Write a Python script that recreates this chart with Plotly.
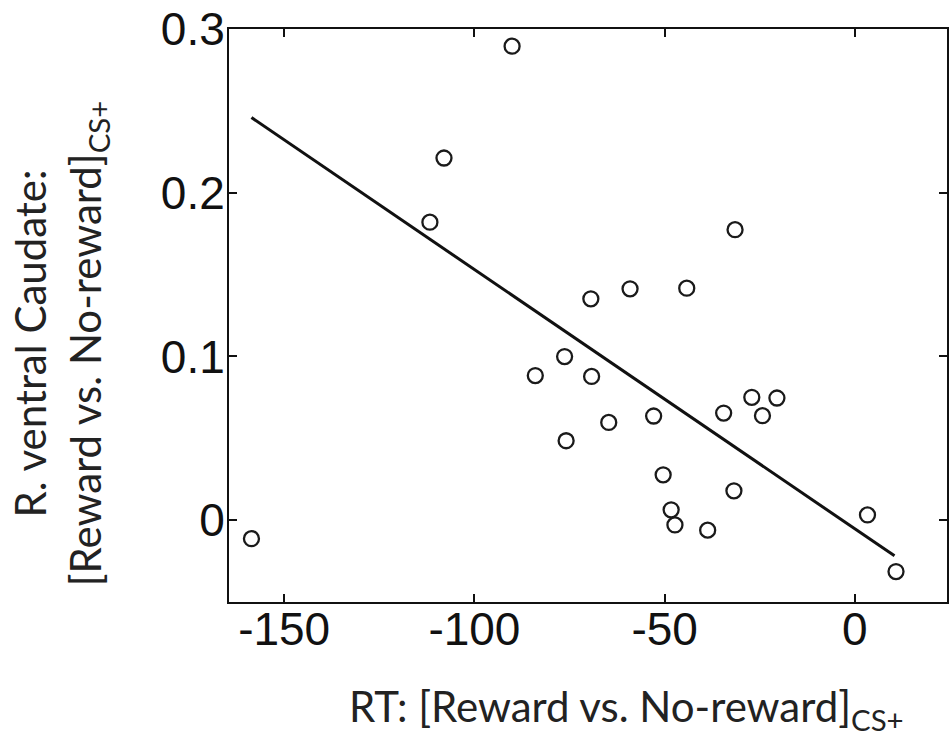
import plotly.graph_objects as go

# Data
rt_diff = [-90.1, -108.0, -111.7, -31.5, -59.1, -44.2, -69.4, -76.3, -84.0, -69.2,
           -27.1, -20.5, -34.5, -24.3, -52.9, -64.7, -75.9, -50.4, -31.8, -48.3,
           -47.3, -38.7, 3.3, 10.8, -158.6]
caudate = [0.2895, 0.2212, 0.1820, 0.1774, 0.1413, 0.1417, 0.1352, 0.0999, 0.0883, 0.0878,
           0.0750, 0.0746, 0.0654, 0.0638, 0.0636, 0.0597, 0.0485, 0.0277, 0.0179, 0.0063,
           -0.0029, -0.0061, 0.0032, -0.0314, -0.0113]
fit_x = [-158.6, 10.4]
fit_y = [0.2459, -0.0218]

x_ticks = [-150, -100, -50, 0]
x_tick_labels = ["-150", "-100", "-50", "0"]
y_ticks = [0, 0.1, 0.2, 0.3]
y_tick_labels = ["0", "0.1", "0.2", "0.3"]

fig = go.Figure()
fig.add_trace(go.Scatter(x=fit_x, y=fit_y, mode="lines",
                         line=dict(color="#111111", width=3), showlegend=False))
fig.add_trace(go.Scatter(x=rt_diff, y=caudate, mode="markers",
                         marker=dict(symbol="circle-open", size=15, color="#1a1a1a",
                                     line=dict(width=2.3, color="#1a1a1a")),
                         showlegend=False))

tick_font = dict(family="Liberation Sans, Arial, sans-serif", size=46, color="#111111")
title_font = dict(family="Lato, Carlito, Calibri, sans-serif", size=42, color="#222222")

fig.update_layout(
    width=949, height=750,
    margin=dict(l=229, r=0, t=29, b=148),
    paper_bgcolor="white", plot_bgcolor="white",
    xaxis=dict(range=[-164.5, 24.2], tickvals=x_ticks, ticktext=x_tick_labels,
               ticks="inside", ticklen=8,
               tickwidth=2, tickcolor="#111111", showline=True, linewidth=2,
               linecolor="#111111", mirror="ticks", showgrid=False, zeroline=False,
               tickfont=tick_font, ticklabelstandoff=-14),
    yaxis=dict(range=[-0.05, 0.3], tickvals=y_ticks, ticktext=y_tick_labels,
               ticks="inside", ticklen=8, tickwidth=2, tickcolor="#111111",
               showline=True, linewidth=2, linecolor="#111111", mirror="ticks",
               showgrid=False, zeroline=False, tickfont=tick_font,
               ticklabelstandoff=-7),
    annotations=[
        dict(text="RT: [Reward vs. No-reward]<sub>CS+</sub>", xref="paper", yref="paper",
             x=0.943, y=-0.135, xanchor="right", yanchor="top", showarrow=False,
             font=title_font),
        dict(text="R. ventral Caudate:<br>[Reward vs. No-reward]<sub>CS+</sub>",
             xref="paper", yref="paper", x=-0.235, y=0.452, xanchor="center",
             yanchor="middle", textangle=-90, showarrow=False, font=title_font),
    ],
)

fig.write_html("out.html")
